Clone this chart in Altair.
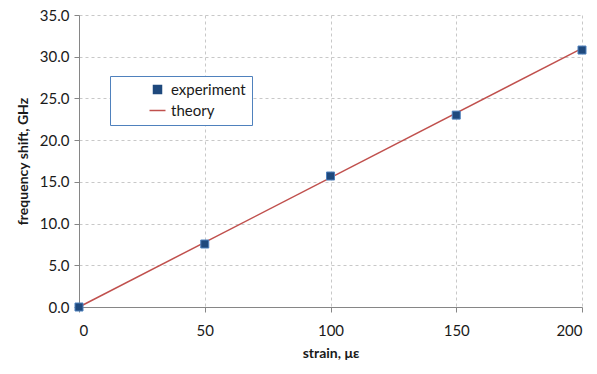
import altair as alt
import pandas as pd

strain_exp = [0, 50, 100, 150, 200]
shift_exp = [0.0, 7.55, 15.7, 23.0, 30.8]
strain_theory = [0, 200]
shift_theory = [0.0, 31.0]
series_names = ["experiment", "theory"]
y_ticks = [0, 5, 10, 15, 20, 25, 30, 35]
x_ticks = [0, 50, 100, 150, 200]

exp_df = pd.DataFrame({"strain": strain_exp, "shift": shift_exp, "series": "experiment"})
th_df = pd.DataFrame({"strain": strain_theory, "shift": shift_theory, "series": "theory"})

FONT = "Lato"
color_scale = alt.Scale(domain=series_names, range=["#1F497D", "#C0504D"])
shape_scale = alt.Scale(domain=series_names, range=["square", "M-2,0L2,0"])

legend = alt.Legend(
    title=None, orient="none", legendX=31, legendY=61,
    fillColor="white", strokeColor="#4F81BD", padding=6,
    labelFont=FONT, labelFontSize=15, labelColor="#1a1a1a",
    symbolSize=64, symbolStrokeWidth=1.5, symbolOffset=34, rowPadding=5,
    labelOffset=6,
)

x = alt.X("strain:Q", scale=alt.Scale(domain=[0, 200], nice=False),
          axis=alt.Axis(values=x_ticks, title="strain, με"))
y = alt.Y("shift:Q", scale=alt.Scale(domain=[0, 35], nice=False),
          axis=alt.Axis(values=y_ticks, format=".1f", title="frequency shift, GHz"))

line = alt.Chart(th_df).mark_line(strokeWidth=1.5).encode(
    x=x, y=y,
    color=alt.Color("series:N", scale=color_scale, legend=legend),
)
points = alt.Chart(exp_df).mark_point(filled=True, size=64, stroke="#4F81BD", strokeWidth=1, opacity=1).encode(
    x=x, y=y,
    color=alt.Color("series:N", scale=color_scale, legend=legend),
    shape=alt.Shape("series:N", scale=shape_scale, legend=legend),
)

chart = alt.layer(line, points).properties(
    width=503, height=292,
    autosize=alt.AutoSizeParams(type="none"),
    padding={"left": 79, "top": 15, "right": 15, "bottom": 67},
).configure_view(stroke=None).configure_axis(
    labelFont=FONT, labelFontSize=15, labelColor="#1a1a1a",
    titleFont=FONT, titleFontSize=14, titleFontWeight="bold", titleColor="#1a1a1a",
    gridColor="#c8c8c8", gridDash=[3, 3], gridWidth=1,
    domainColor="#868686", tickColor="#868686", tickSize=5,
).configure_axisX(labelPadding=11, titlePadding=8).configure_axisY(labelPadding=5, titlePadding=9)

chart.save("out.html", embed_options={"renderer": "svg", "actions": False})
